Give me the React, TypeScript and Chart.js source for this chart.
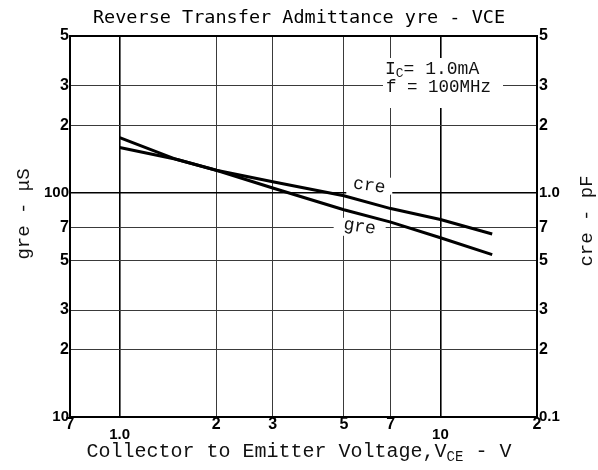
import React, { useEffect, useRef } from 'react';
import { Chart, registerables } from 'chart.js';

Chart.register(...registerables);

// ---- data ----
const voltage = [1, 1.5, 2, 3, 5, 7, 10, 14.5]; // VCE (V)
const greValues = [176, 141, 126, 105, 84, 74, 63, 53]; // gre (μS)
const creValues = [1.59, 1.41, 1.26, 1.12, 0.97, 0.85, 0.76, 0.655]; // cre (pF)

const xTicks = [0.7, 1, 2, 3, 5, 7, 10, 20];
const xTickLabels = ['7', '1.0', '2', '3', '5', '7', '10', '2'];
const yTicks = [10, 20, 30, 50, 70, 100, 200, 300, 500];
const yTickLabels = ['10', '2', '3', '5', '7', '100', '2', '3', '5'];
const y2Ticks = [0.1, 0.2, 0.3, 0.5, 0.7, 1, 2, 3, 5];
const y2TickLabels = ['0.1', '2', '3', '5', '7', '1.0', '2', '3', '5'];

const titleText = 'Reverse Transfer Admittance yre - VCE';
const creLabel = 'cre';
const greLabel = 'gre';
const creLabelAt = { x: 6, y: 1.075 };
const greLabelAt = { x: 5.6, y: 70.5 };

const MONO = "'Liberation Mono', 'Courier New', monospace";
const SANS = "'Liberation Sans', Arial, sans-serif";

type Seg = { t: string; sub?: boolean };

function segWidth(ctx: CanvasRenderingContext2D, segs: Seg[], size: number) {
  let w = 0;
  for (const s of segs) {
    ctx.font = `${s.sub ? Math.round(size * 0.72) : size}px ${MONO}`;
    w += ctx.measureText(s.t).width;
  }
  return w;
}

function drawSegs(
  ctx: CanvasRenderingContext2D,
  segs: Seg[],
  x: number,
  y: number,
  size: number,
  align: 'left' | 'center',
  rotation = 0
) {
  ctx.save();
  ctx.translate(x, y);
  ctx.rotate(rotation);
  ctx.fillStyle = '#111';
  ctx.textBaseline = 'middle';
  ctx.textAlign = 'left';
  const total = segWidth(ctx, segs, size);
  let cx = align === 'center' ? -total / 2 : 0;
  for (const s of segs) {
    const fs = s.sub ? Math.round(size * 0.72) : size;
    ctx.font = `${fs}px ${MONO}`;
    ctx.fillText(s.t, cx, s.sub ? size * 0.28 : 0);
    cx += ctx.measureText(s.t).width;
  }
  ctx.restore();
}

const textPlugin = {
  id: 'textPlugin',
  beforeDatasetsDraw(chart: any) {
    const { ctx, chartArea, scales } = chart;
    ctx.save();
    ctx.fillStyle = '#ffffff';
    // conditions box (breaks the grid)
    ctx.fillRect(chartArea.right - 154, chartArea.top + 22, 120, 50);
    // curve label boxes
    const cx = scales.x.getPixelForValue(creLabelAt.x);
    const cy = scales.y2.getPixelForValue(creLabelAt.y);
    ctx.fillRect(cx - 23, cy - 8, 46, 17);
    const gx = scales.x.getPixelForValue(greLabelAt.x);
    const gy = scales.y.getPixelForValue(greLabelAt.y);
    ctx.fillRect(gx - 26, gy - 9, 52, 18);
    ctx.restore();
  },
  afterDatasetsDraw(chart: any) {
    const { ctx, chartArea, scales, width } = chart;
    // conditions
    const ax = chartArea.right - 152;
    drawSegs(ctx, [{ t: 'I' }, { t: 'C', sub: true }, { t: '= 1.0mA' }], ax, chartArea.top + 33, 18, 'left');
    drawSegs(ctx, [{ t: 'f = 100MHz' }], ax + 1, chartArea.top + 51, 17.5, 'left');
    // curve labels
    const cx = scales.x.getPixelForValue(creLabelAt.x);
    const cy = scales.y2.getPixelForValue(creLabelAt.y);
    drawSegs(ctx, [{ t: creLabel }], cx, cy, 18, 'center', 0.14);
    const gx = scales.x.getPixelForValue(greLabelAt.x);
    const gy = scales.y.getPixelForValue(greLabelAt.y);
    drawSegs(ctx, [{ t: greLabel }], gx, gy, 18, 'center', 0.16);
    // axis titles
    drawSegs(
      ctx,
      [{ t: 'Collector to Emitter Voltage,V' }, { t: 'CE', sub: true }, { t: ' - V' }],
      width / 2,
      452,
      20,
      'center'
    );
    drawSegs(ctx, [{ t: 'gre - μS' }], 24, 214, 19, 'center', -Math.PI / 2);
    drawSegs(ctx, [{ t: 'cre - pF' }], width - 11, 221, 19, 'center', -Math.PI / 2);
  },
};

function gridColor(v: number, majors: number[]) {
  return majors.includes(v) ? '#000' : '#3a3a3a';
}

function fontFor(labels: string[]) {
  return (c: any) => {
    const label = labels[c.index] ?? '';
    return { family: SANS, size: label.length <= 1 ? 16 : 15, weight: 'bold', lineHeight: '10px' };
  };
}

export default function App() {
  const canvasRef = useRef<HTMLCanvasElement | null>(null);

  useEffect(() => {
    if (!canvasRef.current) return;
    const chart = new Chart(canvasRef.current, {
      type: 'line',
      data: {
        datasets: [
          {
            label: 'gre',
            data: voltage.map((v, i) => ({ x: v, y: greValues[i] })),
            yAxisID: 'y',
            borderColor: '#000',
            borderWidth: 3,
            pointRadius: 0,
            tension: 0,
            fill: false,
          },
          {
            label: 'cre',
            data: voltage.map((v, i) => ({ x: v, y: creValues[i] })),
            yAxisID: 'y2',
            borderColor: '#000',
            borderWidth: 3,
            pointRadius: 0,
            tension: 0,
            fill: false,
          },
        ],
      },
      options: {
        animation: false,
        responsive: true,
        maintainAspectRatio: false,
        devicePixelRatio: 1,
        layout: { padding: 0 },
        events: [],
        plugins: {
          legend: { display: false },
          tooltip: { enabled: false },
          title: {
            display: true,
            text: titleText,
            color: '#000',
            font: { family: "'DejaVu Sans Mono', monospace", size: 18.5, weight: 'normal', lineHeight: 1.2 },
            padding: { top: 7, bottom: 6.8 },
          },
        },
        scales: {
          x: {
            type: 'logarithmic',
            position: 'bottom',
            min: 0.7,
            max: 20,
            afterBuildTicks: (s: any) => {
              s.ticks = xTicks.map((value) => ({ value }));
            },
            afterFit: (s: any) => {
              s.height = 53;
            },
            ticks: {
              autoSkip: false,
              maxRotation: 0,
              color: '#000',
              padding: 3,
              font: fontFor(xTickLabels),
              callback: (_v: any, i: number) => {
                const l = xTickLabels[i];
                return l.length > 1 ? ['', l] : l;
              },
            },
            grid: {
              drawTicks: false,
              color: (c: any) => gridColor(c.tick?.value, [0.7, 1, 10, 20]),
              lineWidth: (c: any) => {
                const v = c.tick?.value;
                if (v === 0.7 || v === 20) return 2;
                if (v === 1 || v === 10) return 1.6;
                return 1;
              },
            },
            border: { display: true, color: '#000', width: 2 },
          },
          y: {
            type: 'logarithmic',
            position: 'left',
            min: 10,
            max: 500,
            afterBuildTicks: (s: any) => {
              s.ticks = yTicks.map((value) => ({ value }));
            },
            afterFit: (s: any) => {
              s.width = 70;
            },
            ticks: {
              autoSkip: false,
              color: '#000',
              padding: 1,
              font: fontFor(yTickLabels),
              callback: (_v: any, i: number) => yTickLabels[i],
            },
            grid: {
              drawTicks: false,
              color: (c: any) => gridColor(c.tick?.value, [10, 100, 500]),
              lineWidth: (c: any) => {
                const v = c.tick?.value;
                if (v === 10 || v === 500) return 2;
                if (v === 100) return 1.6;
                return 1;
              },
            },
            border: { display: true, color: '#000', width: 2 },
          },
          y2: {
            type: 'logarithmic',
            position: 'right',
            min: 0.1,
            max: 5,
            afterBuildTicks: (s: any) => {
              s.ticks = y2Ticks.map((value) => ({ value }));
            },
            afterFit: (s: any) => {
              s.width = 61;
            },
            ticks: {
              autoSkip: false,
              color: '#000',
              padding: 2,
              font: fontFor(y2TickLabels),
              callback: (_v: any, i: number) => y2TickLabels[i],
            },
            grid: { drawOnChartArea: false, drawTicks: false },
            border: { display: true, color: '#000', width: 2 },
          },
        },
      },
      plugins: [textPlugin],
    } as any);
    return () => chart.destroy();
  }, []);

  return (
    <div style={{ position: 'fixed', left: 0, top: 0, width: 598, height: 470, background: '#fff' }}>
      <canvas ref={canvasRef} />
    </div>
  );
}
